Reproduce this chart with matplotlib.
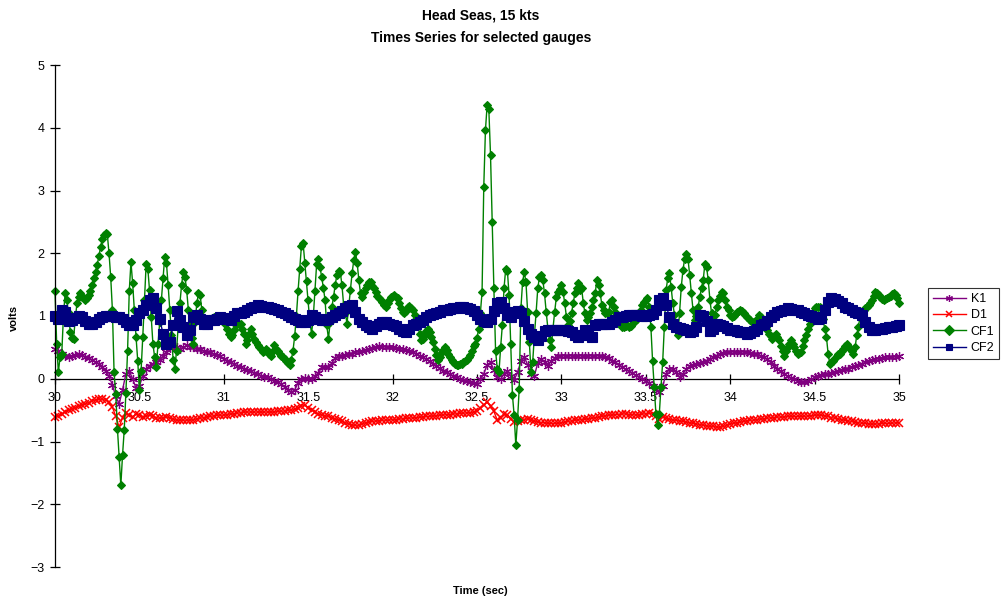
import matplotlib
matplotlib.use('Agg')
import matplotlib.pyplot as plt
import numpy as np

plt.rcParams['font.family'] = ['Liberation Sans', 'DejaVu Sans']

# -------- Gauge records, 30 s to 35 s -------- #
# K1, D1 and CF2 every 0.02 s, CF1 every 0.01 s
k1 = [
    0.48, 0.44, 0.40, 0.37, 0.35, 0.36, 0.38, 0.40, 0.38, 0.35,
    0.33, 0.30, 0.27, 0.24, 0.19, 0.12, 0.04, -0.10, -0.28, -0.40,
    -0.18, 0.08, 0.12, 0.00, -0.15, -0.12, 0.05, 0.16, 0.21, 0.24,
    0.27, 0.30, 0.36, 0.43, 0.49, 0.51, 0.50, 0.48, 0.50, 0.53,
    0.51, 0.50, 0.48, 0.47, 0.45, 0.43, 0.42, 0.40, 0.38, 0.36,
    0.32, 0.29, 0.26, 0.23, 0.21, 0.19, 0.16, 0.14, 0.12, 0.09,
    0.07, 0.05, 0.03, 0.02, 0.00, -0.03, -0.05, -0.09, -0.13, -0.18,
    -0.21, -0.18, -0.06, 0.00, 0.01, 0.00, 0.00, 0.04, 0.09, 0.18,
    0.19, 0.19, 0.25, 0.33, 0.37, 0.37, 0.38, 0.39, 0.40, 0.42,
    0.43, 0.44, 0.46, 0.48, 0.49, 0.51, 0.52, 0.51, 0.51, 0.50,
    0.50, 0.49, 0.48, 0.47, 0.46, 0.45, 0.43, 0.40, 0.37, 0.34,
    0.31, 0.28, 0.24, 0.21, 0.17, 0.13, 0.10, 0.07, 0.04, 0.02,
    0.00, -0.02, -0.04, -0.05, -0.06, -0.08, 0.00, 0.08, 0.22, 0.26,
    0.14, 0.02, -0.01, 0.08, 0.12, 0.05, -0.02, 0.10, 0.28, 0.35,
    0.22, 0.08, 0.05, 0.25, 0.32, 0.27, 0.21, 0.28, 0.33, 0.36,
    0.37, 0.37, 0.37, 0.37, 0.37, 0.37, 0.37, 0.37, 0.37, 0.37,
    0.37, 0.37, 0.36, 0.35, 0.33, 0.29, 0.26, 0.22, 0.19, 0.15,
    0.12, 0.09, 0.06, 0.03, 0.00, -0.03, -0.07, -0.12, -0.17, -0.21,
    -0.12, 0.08, 0.15, 0.16, 0.10, 0.03, 0.08, 0.15, 0.20, 0.22,
    0.24, 0.25, 0.27, 0.29, 0.31, 0.34, 0.37, 0.39, 0.41, 0.43,
    0.43, 0.43, 0.43, 0.43, 0.43, 0.42, 0.41, 0.40, 0.39, 0.37,
    0.34, 0.31, 0.26, 0.21, 0.16, 0.12, 0.08, 0.04, 0.01, -0.01,
    -0.03, -0.05, -0.05, -0.03, -0.01, 0.02, 0.05, 0.06, 0.07, 0.08,
    0.09, 0.10, 0.12, 0.14, 0.15, 0.16, 0.18, 0.20, 0.22, 0.24,
    0.26, 0.28, 0.30, 0.31, 0.32, 0.33, 0.34, 0.35, 0.35, 0.35,
    0.36,
]

d1 = [
    -0.61, -0.59, -0.56, -0.53, -0.50, -0.48, -0.46, -0.44, -0.42, -0.40,
    -0.38, -0.35, -0.34, -0.33, -0.33, -0.34, -0.37, -0.45, -0.60, -0.77,
    -0.62, -0.55, -0.58, -0.61, -0.56, -0.58, -0.61, -0.60, -0.58, -0.60,
    -0.62, -0.63, -0.62, -0.61, -0.62, -0.64, -0.66, -0.66, -0.66, -0.66,
    -0.66, -0.65, -0.64, -0.63, -0.62, -0.61, -0.60, -0.59, -0.58, -0.58,
    -0.58, -0.57, -0.56, -0.56, -0.55, -0.54, -0.53, -0.53, -0.53, -0.53,
    -0.53, -0.53, -0.53, -0.53, -0.53, -0.53, -0.52, -0.52, -0.51, -0.50,
    -0.50, -0.49, -0.47, -0.44, -0.42, -0.46, -0.50, -0.53, -0.56, -0.58,
    -0.59, -0.60, -0.62, -0.64, -0.66, -0.68, -0.70, -0.72, -0.74, -0.74,
    -0.74, -0.72, -0.70, -0.69, -0.68, -0.67, -0.67, -0.66, -0.66, -0.66,
    -0.65, -0.65, -0.64, -0.64, -0.63, -0.63, -0.62, -0.62, -0.61, -0.61,
    -0.60, -0.60, -0.59, -0.59, -0.58, -0.58, -0.57, -0.57, -0.56, -0.56,
    -0.55, -0.55, -0.54, -0.54, -0.53, -0.52, -0.47, -0.42, -0.37, -0.44,
    -0.52, -0.66, -0.62, -0.56, -0.57, -0.64, -0.69, -0.67, -0.66, -0.65,
    -0.64, -0.65, -0.67, -0.69, -0.70, -0.70, -0.71, -0.71, -0.71, -0.71,
    -0.70, -0.69, -0.68, -0.67, -0.66, -0.66, -0.65, -0.64, -0.64, -0.63,
    -0.62, -0.61, -0.60, -0.59, -0.58, -0.58, -0.57, -0.57, -0.56, -0.56,
    -0.57, -0.57, -0.58, -0.57, -0.56, -0.56, -0.55, -0.56, -0.60, -0.64,
    -0.61, -0.62, -0.64, -0.66, -0.66, -0.67, -0.68, -0.69, -0.70, -0.71,
    -0.72, -0.73, -0.74, -0.75, -0.76, -0.76, -0.77, -0.77, -0.76, -0.74,
    -0.72, -0.71, -0.70, -0.69, -0.68, -0.67, -0.66, -0.66, -0.65, -0.64,
    -0.64, -0.63, -0.62, -0.62, -0.61, -0.61, -0.61, -0.60, -0.60, -0.60,
    -0.60, -0.60, -0.60, -0.59, -0.59, -0.58, -0.58, -0.58, -0.59, -0.60,
    -0.62, -0.63, -0.64, -0.65, -0.66, -0.67, -0.68, -0.69, -0.70, -0.71,
    -0.71, -0.72, -0.72, -0.72, -0.72, -0.71, -0.71, -0.71, -0.71, -0.70,
    -0.70,
]

cf1 = [
    1.40, 0.55, 0.10, 0.35, 0.40, 1.00, 1.36, 1.25, 1.05, 0.75,
    0.65, 0.64, 0.95, 1.20, 1.30, 1.36, 1.30, 1.28, 1.26, 1.28,
    1.33, 1.40, 1.50, 1.60, 1.70, 1.82, 1.95, 2.10, 2.22, 2.29,
    2.33, 2.30, 2.00, 1.62, 1.10, 0.10, -0.25, -0.80, -1.25, -1.70,
    -1.22, -0.82, -0.22, 0.45, 1.40, 1.86, 1.52, 1.09, 0.67, 0.29,
    -0.18, 0.13, 0.67, 1.25, 1.83, 1.75, 1.41, 0.98, 0.56, 0.35,
    0.19, 0.55, 0.90, 1.25, 1.60, 1.94, 1.85, 1.50, 1.10, 0.70,
    0.30, 0.16, 0.45, 0.85, 1.20, 1.50, 1.70, 1.62, 1.41, 1.10,
    0.88, 0.65, 0.56, 0.90, 1.20, 1.36, 1.33, 1.09, 0.95, 0.88,
    0.88, 0.92, 0.95, 0.97, 0.98, 0.97, 0.96, 0.98, 0.99, 0.97,
    0.95, 0.88, 0.80, 0.72, 0.67, 0.70, 0.77, 0.85, 0.90, 0.88,
    0.88, 0.80, 0.72, 0.56, 0.62, 0.72, 0.80, 0.72, 0.64, 0.58,
    0.53, 0.51, 0.47, 0.43, 0.45, 0.48, 0.44, 0.40, 0.37, 0.45,
    0.53, 0.48, 0.44, 0.40, 0.37, 0.35, 0.32, 0.29, 0.25, 0.22,
    0.30, 0.45, 0.68, 1.00, 1.40, 1.75, 2.12, 2.16, 1.85, 1.55,
    1.25, 0.90, 0.72, 0.98, 1.40, 1.83, 1.91, 1.78, 1.62, 1.45,
    1.25, 0.85, 0.64, 0.90, 1.14, 1.30, 1.50, 1.65, 1.72, 1.70,
    1.49, 1.17, 1.04, 0.88, 1.15, 1.41, 1.68, 1.89, 2.02, 1.85,
    1.57, 1.36, 1.30, 1.38, 1.45, 1.50, 1.54, 1.54, 1.48, 1.44,
    1.38, 1.32, 1.28, 1.25, 1.22, 1.18, 1.15, 1.20, 1.26, 1.30,
    1.32, 1.33, 1.31, 1.28, 1.20, 1.12, 1.06, 1.04, 1.08, 1.14,
    1.16, 1.13, 1.09, 1.02, 0.95, 0.85, 0.72, 0.61, 0.64, 0.70,
    0.76, 0.80, 0.74, 0.67, 0.58, 0.48, 0.38, 0.30, 0.34, 0.42,
    0.46, 0.50, 0.46, 0.40, 0.34, 0.30, 0.27, 0.24, 0.22, 0.22,
    0.23, 0.24, 0.26, 0.28, 0.30, 0.34, 0.38, 0.45, 0.52, 0.56,
    0.65, 0.80, 1.05, 1.38, 3.05, 3.96, 4.36, 4.30, 3.57, 2.50,
    1.44, 0.45, 0.16, 0.10, 0.50, 0.85, 1.44, 1.75, 1.72, 1.33,
    0.56, -0.26, -0.58, -1.06, -0.66, -0.16, 1.12, 1.54, 1.70, 1.54,
    1.06, 0.59, 0.11, 0.27, 0.69, 1.05, 1.44, 1.62, 1.65, 1.57,
    1.36, 1.06, 0.80, 0.61, 0.51, 0.80, 1.06, 1.30, 1.38, 1.43,
    1.49, 1.38, 1.20, 0.98, 0.85, 0.92, 1.05, 1.20, 1.36, 1.45,
    1.52, 1.41, 1.44, 1.20, 1.04, 0.93, 0.98, 1.05, 1.14, 1.25,
    1.36, 1.57, 1.49, 1.36, 1.17, 1.10, 1.04, 1.05, 1.06, 1.22,
    1.25, 1.14, 1.06, 0.98, 0.93, 0.88, 0.83, 0.82, 0.84, 0.85,
    0.82, 0.84, 0.87, 0.90, 0.93, 0.96, 0.98, 1.09, 1.17, 1.22,
    1.25, 1.28, 1.15, 0.83, 0.29, -0.13, -0.56, -0.74, -0.56, -0.13,
    0.27, 0.83, 1.41, 1.60, 1.68, 1.46, 1.20, 1.01, 0.83, 0.69,
    1.05, 1.46, 1.73, 1.91, 1.99, 1.91, 1.65, 1.36, 1.09, 0.93,
    1.00, 1.15, 1.30, 1.45, 1.57, 1.83, 1.78, 1.57, 1.25, 1.04,
    0.93, 1.02, 1.15, 1.25, 1.32, 1.38, 1.36, 1.25, 1.15, 1.09,
    1.02, 0.98, 1.00, 1.03, 1.06, 1.08, 1.09, 1.08, 1.05, 1.01,
    0.99, 0.96, 0.93, 0.91, 0.90, 0.91, 0.96, 1.01, 0.98, 0.96,
    0.90, 0.83, 0.77, 0.72, 0.68, 0.64, 0.68, 0.72, 0.66, 0.61,
    0.52, 0.45, 0.37, 0.44, 0.51, 0.56, 0.61, 0.56, 0.51, 0.45,
    0.40, 0.41, 0.43, 0.52, 0.61, 0.70, 0.80, 0.88, 0.96, 1.04,
    1.12, 1.14, 1.15, 1.14, 1.12, 0.95, 0.80, 0.67, 0.40, 0.24,
    0.26, 0.29, 0.33, 0.37, 0.39, 0.40, 0.44, 0.48, 0.52, 0.56,
    0.52, 0.48, 0.44, 0.40, 0.50, 0.70, 0.83, 1.01, 1.05, 1.09,
    1.12, 1.14, 1.17, 1.21, 1.25, 1.32, 1.38, 1.36, 1.33, 1.30,
    1.27, 1.25, 1.27, 1.29, 1.30, 1.32, 1.35, 1.36, 1.33, 1.28,
    1.20,
]

cf2 = [
    1.00, 0.95, 1.10, 1.06, 0.92, 0.93, 0.97, 1.00, 0.98, 0.92,
    0.88, 0.87, 0.90, 0.95, 0.99, 1.00, 1.00, 1.00, 0.99, 0.98,
    0.96, 0.90, 0.85, 0.86, 0.93, 1.04, 1.10, 1.18, 1.26, 1.28,
    1.12, 0.95, 0.72, 0.56, 0.58, 0.85, 1.08, 0.93, 0.82, 0.70,
    0.78, 0.98, 1.01, 0.95, 0.88, 0.88, 0.93, 0.94, 0.96, 0.98,
    0.97, 0.95, 0.94, 1.00, 1.04, 1.05, 1.06, 1.09, 1.12, 1.15,
    1.17, 1.16, 1.15, 1.14, 1.13, 1.11, 1.09, 1.07, 1.04, 1.01,
    0.98, 0.95, 0.93, 0.91, 0.90, 0.93, 1.01, 0.99, 0.96, 0.94,
    0.93, 0.96, 0.98, 1.01, 1.04, 1.08, 1.12, 1.16, 1.17, 1.06,
    0.95, 0.90, 0.85, 0.82, 0.80, 0.84, 0.88, 0.91, 0.90, 0.88,
    0.86, 0.84, 0.80, 0.76, 0.75, 0.80, 0.85, 0.88, 0.91, 0.94,
    0.98, 1.01, 1.03, 1.05, 1.07, 1.09, 1.10, 1.11, 1.12, 1.13,
    1.14, 1.14, 1.13, 1.11, 1.08, 1.02, 0.96, 0.92, 0.90, 0.96,
    1.08, 1.20, 1.22, 1.12, 1.02, 0.98, 1.06, 1.08, 1.04, 0.92,
    0.80, 0.72, 0.66, 0.62, 0.68, 0.76, 0.78, 0.77, 0.77, 0.77,
    0.77, 0.77, 0.76, 0.74, 0.70, 0.66, 0.70, 0.77, 0.72, 0.67,
    0.86, 0.88, 0.88, 0.88, 0.88, 0.90, 0.94, 0.98, 0.99, 1.00,
    1.01, 1.01, 1.01, 1.01, 1.00, 1.00, 1.01, 1.03, 1.10, 1.26,
    1.28, 1.18, 0.98, 0.88, 0.83, 0.81, 0.80, 0.78, 0.75, 0.76,
    0.82, 1.02, 1.00, 0.92, 0.76, 0.80, 0.88, 0.86, 0.84, 0.81,
    0.78, 0.77, 0.76, 0.75, 0.74, 0.72, 0.73, 0.76, 0.80, 0.85,
    0.87, 0.92, 0.98, 1.02, 1.06, 1.08, 1.10, 1.12, 1.11, 1.10,
    1.09, 1.07, 1.05, 1.02, 1.00, 0.98, 0.96, 0.97, 1.10, 1.22,
    1.28, 1.27, 1.24, 1.20, 1.15, 1.12, 1.09, 1.07, 1.04, 1.02,
    0.90, 0.82, 0.78, 0.78, 0.79, 0.80, 0.81, 0.82, 0.83, 0.84,
    0.86,
]

series_names = ['K1', 'D1', 'CF1', 'CF2']
series_data = [k1, d1, cf1, cf2]
series_colors = ['#800080', '#ff0000', '#008000', '#000080']
series_markers = [(6, 2, 0), 'x', 'D', 's']
marker_sizes = [6.5, 6.3, 4.5, 6.5]
edge_widths = [0.9, 1.1, 0.8, 0.8]

# --- Figure and axes --- #
fig = plt.figure(figsize=(10.07, 6.03), dpi=100)
ax = fig.add_axes([55 / 1007, 1 - 567 / 603, (899 - 55) / 1007, (567 - 65) / 603])

for name, vals, col, mk, ms, mew in zip(series_names, series_data, series_colors,
                                        series_markers, marker_sizes, edge_widths):
    t = np.linspace(30, 35, len(vals))
    ax.plot(t, vals, color=col, lw=1, marker=mk, markersize=ms,
            markeredgecolor=col, markerfacecolor=col, markeredgewidth=mew,
            label=name, clip_on=False)

ax.set_xlim(30, 35)
ax.set_ylim(-3, 5)
ax.set_xticks(np.arange(30, 35.01, 0.5))
ax.set_xticklabels(['30', '30.5', '31', '31.5', '32', '32.5', '33', '33.5',
                    '34', '34.5', '35'])
ax.set_yticks(np.arange(-3, 6, 1))

# --- Axis lines: x axis crosses at zero --- #
ax.spines['top'].set_visible(False)
ax.spines['right'].set_visible(False)
ax.spines['bottom'].set_position(('data', 0))
ax.spines['bottom'].set_zorder(0)
for sp in ['left', 'bottom']:
    ax.spines[sp].set_color('black')
    ax.spines[sp].set_linewidth(0.9)
ax.tick_params(axis='both', direction='inout', length=7, width=0.9,
               labelsize=9, colors='black')
ax.tick_params(axis='x', pad=6)
ax.tick_params(axis='y', pad=4)

# --- Titles and labels --- #
fig.text(481 / 1007, 1 - 16 / 603, 'Head Seas, 15 kts', ha='center', va='center',
         fontsize=10, fontweight='bold')
fig.text(481 / 1007, 1 - 38 / 603, 'Times Series for selected gauges',
         ha='center', va='center', fontsize=10, fontweight='bold')
fig.text(480 / 1007, 1 - 591 / 603, 'Time (sec)', ha='center', va='center',
         fontsize=8, fontweight='bold')
fig.text(14 / 1007, 1 - 318 / 603, 'volts', ha='center', va='center',
         rotation=90, fontsize=8, fontweight='bold')

# --- Legend --- #
leg = fig.legend(loc='upper left', bbox_to_anchor=(928 / 1007, 1 - 288 / 603),
                 fontsize=9, frameon=True, fancybox=False, shadow=False,
                 handlelength=2.6, handletextpad=0.4, borderpad=0.4,
                 labelspacing=0.35, borderaxespad=0)
leg.get_frame().set_edgecolor('black')
leg.get_frame().set_linewidth(0.8)
for h in leg.legend_handles:
    h.set_markersize(5)

fig.savefig('out.png', dpi=100)
